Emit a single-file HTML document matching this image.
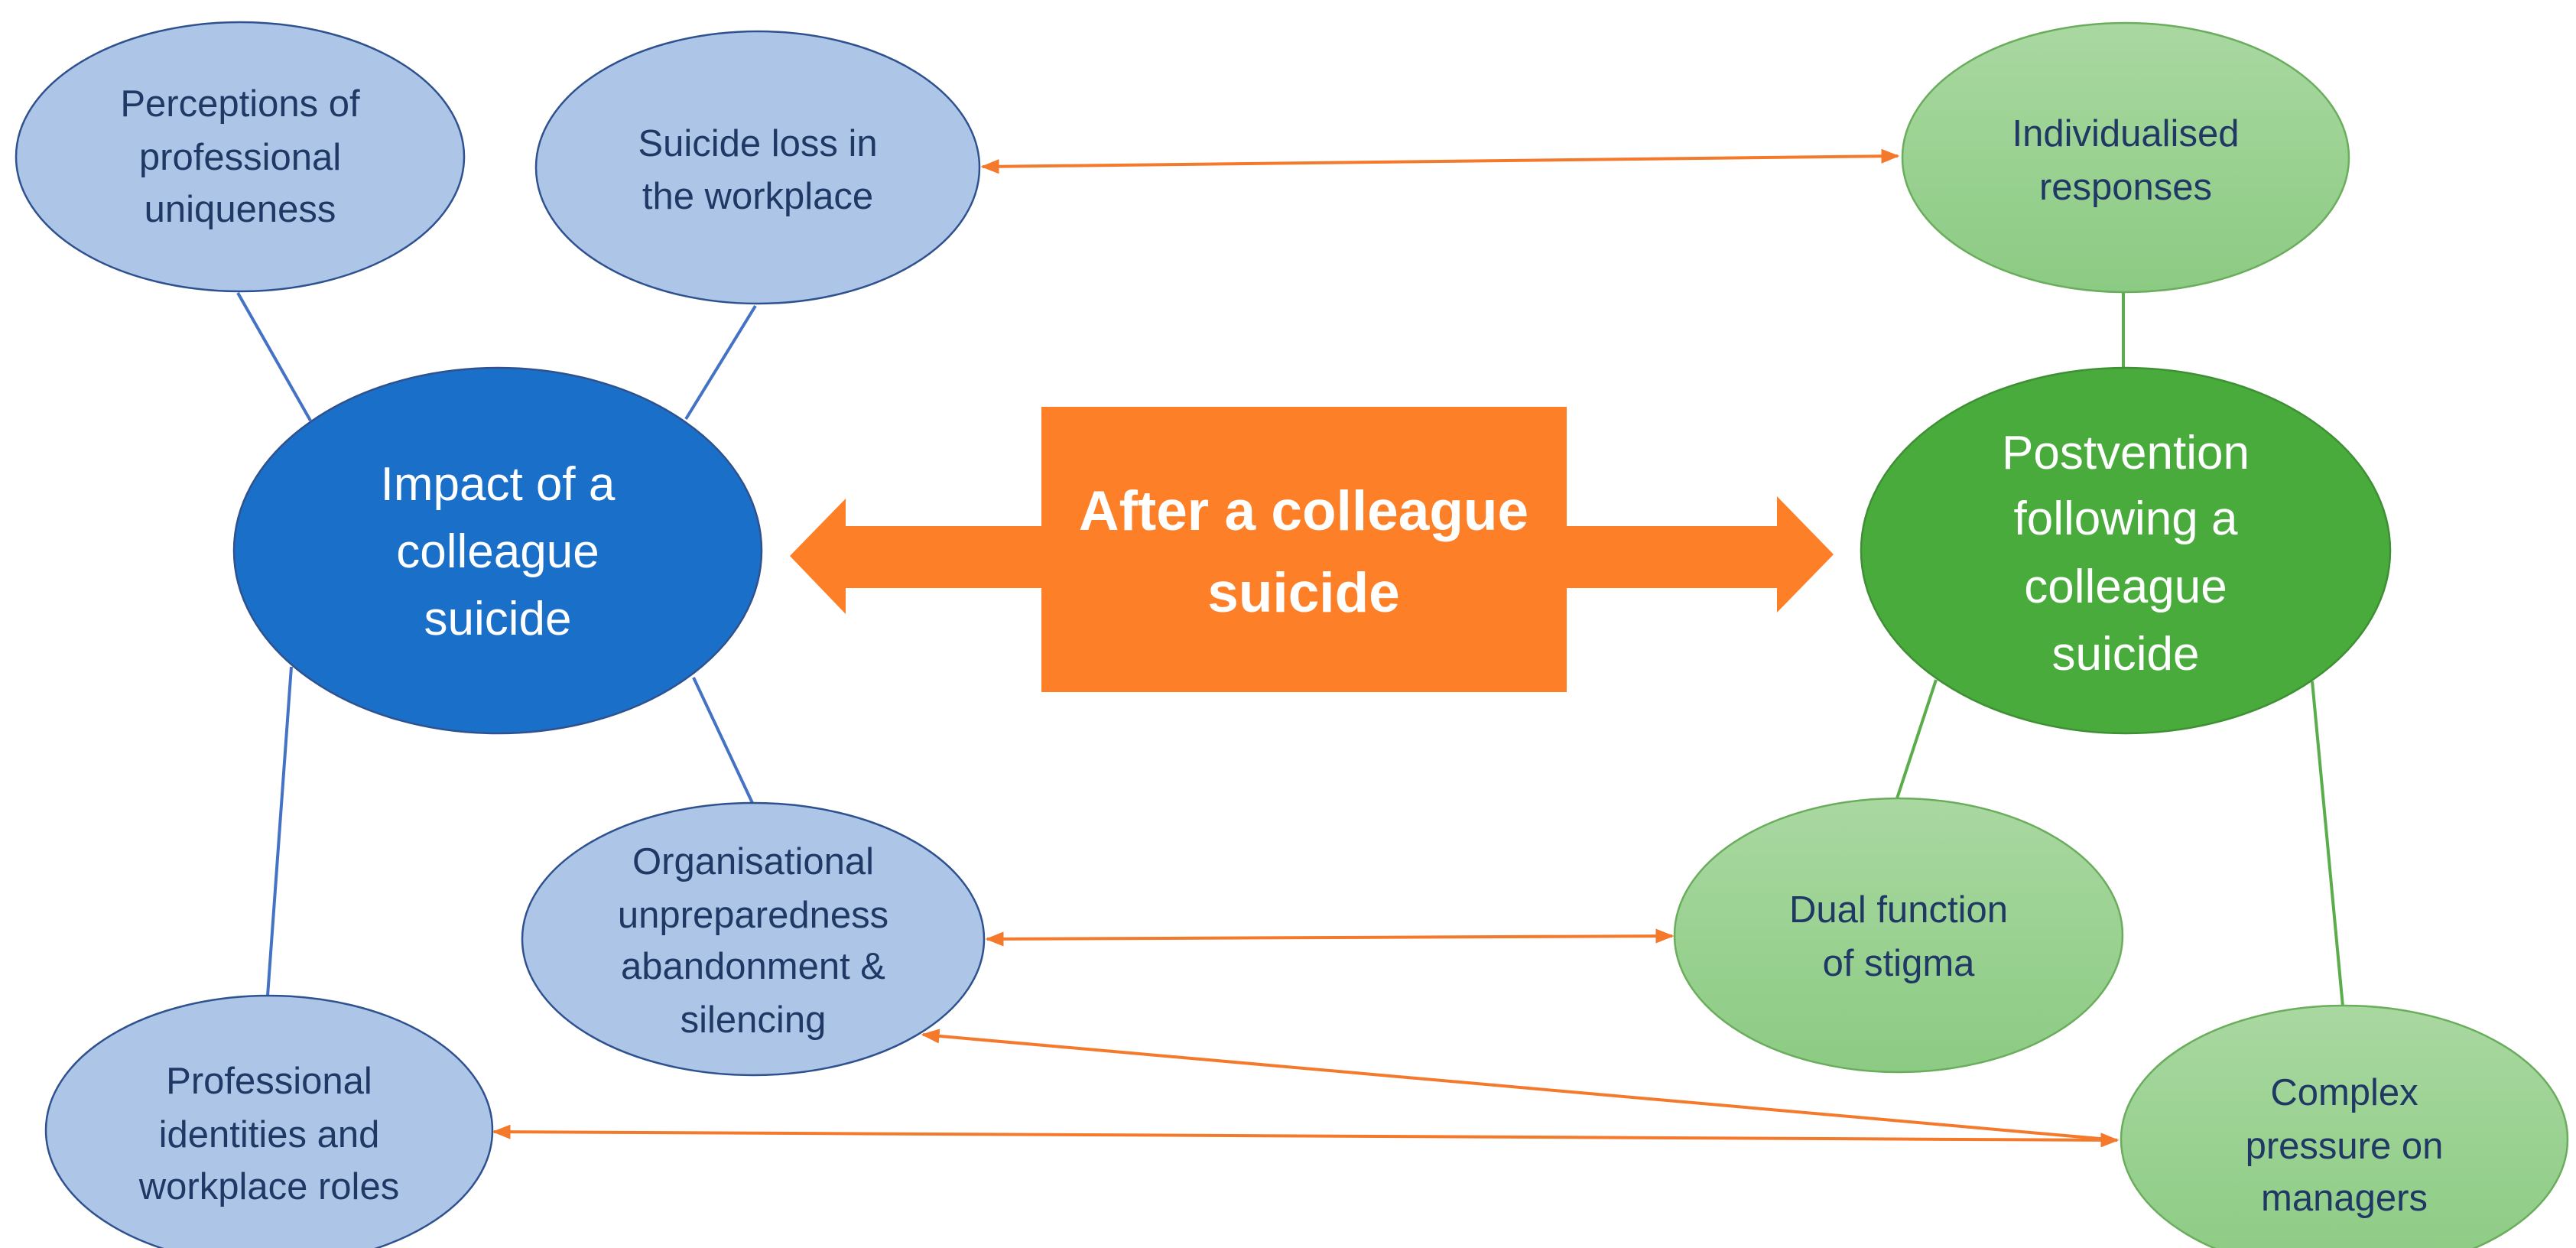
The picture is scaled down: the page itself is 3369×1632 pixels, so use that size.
<!DOCTYPE html>
<html><head><meta charset="utf-8"><style>html,body{margin:0;padding:0;background:#fff}svg{display:block}</style></head>
<body>
<svg width="3369" height="1632" viewBox="0 0 3369 1632" xmlns="http://www.w3.org/2000/svg" font-family="Liberation Sans, sans-serif">
<defs>
<linearGradient id="gg" x1="0" y1="0" x2="0" y2="1"><stop offset="0" stop-color="#a9d8a1"/><stop offset="1" stop-color="#8ccb83"/></linearGradient>
<marker id="ar" viewBox="0 0 10 10" refX="9" refY="5" markerWidth="6" markerHeight="6" orient="auto-start-reverse"><path d="M0,1 L10,5 L0,9 z" fill="#f5792a"/></marker>
</defs>
<g stroke="#4472c4" stroke-width="4">
<line x1="311" y1="383" x2="406" y2="550"/>
<line x1="988" y1="400" x2="897" y2="548"/>
<line x1="381" y1="872" x2="350" y2="1302"/>
<line x1="907" y1="886" x2="984" y2="1050"/>
</g>
<g stroke="#5aad4a" stroke-width="4">
<line x1="2777" y1="382" x2="2777" y2="481"/>
<line x1="2532" y1="889" x2="2481" y2="1044"/>
<line x1="3024" y1="891" x2="3064" y2="1316"/>
</g>
<g stroke="#f5792a" stroke-width="4" fill="none">
<line x1="1285" y1="218" x2="2482" y2="204" marker-start="url(#ar)" marker-end="url(#ar)"/>
<line x1="1291" y1="1228" x2="2187" y2="1224" marker-start="url(#ar)" marker-end="url(#ar)"/>
<line x1="646" y1="1480" x2="2769" y2="1491" marker-start="url(#ar)" marker-end="url(#ar)"/>
<line x1="1207" y1="1353" x2="2769" y2="1491" marker-start="url(#ar)"/>
</g>
<g fill="#adc6e8" stroke="#2f528f" stroke-width="2.5">
<ellipse cx="314" cy="205" rx="293" ry="176"/>
<ellipse cx="991" cy="219" rx="290" ry="178"/>
<ellipse cx="985" cy="1228" rx="302" ry="178"/>
<ellipse cx="352" cy="1478" rx="292" ry="176"/>
</g>
<ellipse cx="651" cy="720" rx="345" ry="239" fill="#1a6fc8" stroke="#2f528f" stroke-width="2.5"/>
<g fill="url(#gg)" stroke="#6aad5c" stroke-width="2.5">
<ellipse cx="2780" cy="206" rx="292" ry="176"/>
<ellipse cx="2483" cy="1223" rx="293" ry="179"/>
<ellipse cx="3066" cy="1490" rx="292" ry="175"/>
</g>
<ellipse cx="2780" cy="720" rx="346" ry="239" fill="#48ab3b" stroke="#3f8f35" stroke-width="2.5"/>
<rect x="1362" y="532" width="687" height="373" fill="#fd7f28"/>
<polygon points="1362,688 1106,688 1106,652 1033,727 1106,803 1106,769 1362,769" fill="#fd7f28"/>
<polygon points="2049,688 2324,688 2324,649 2398,725 2324,801 2324,769 2049,769" fill="#fd7f28"/>
<g text-anchor="middle" font-size="73" font-weight="bold" fill="#fff">
<text x="1705" y="693">After a colleague</text>
<text x="1705" y="800">suicide</text>
</g>
<g text-anchor="middle" font-size="49" fill="#1f3864">
<text x="314" y="152">Perceptions of</text><text x="314" y="222">professional</text><text x="314" y="290">uniqueness</text>
<text x="991" y="204">Suicide loss in</text><text x="991" y="273">the workplace</text>
<text x="985" y="1143">Organisational</text><text x="985" y="1213">unpreparedness</text><text x="985" y="1280">abandonment &amp;</text><text x="985" y="1350">silencing</text>
<text x="352" y="1430">Professional</text><text x="352" y="1500">identities and</text><text x="352" y="1568">workplace roles</text>
<text x="2780" y="191">Individualised</text><text x="2780" y="261">responses</text>
<text x="2483" y="1206">Dual function</text><text x="2483" y="1276">of stigma</text>
<text x="3066" y="1445">Complex</text><text x="3066" y="1515">pressure on</text><text x="3066" y="1583">managers</text>
</g>
<g text-anchor="middle" font-size="62" fill="#fff">
<text x="651" y="654">Impact of a</text><text x="651" y="742">colleague</text><text x="651" y="830">suicide</text>
<text x="2780" y="613">Postvention</text><text x="2780" y="699">following a</text><text x="2780" y="788">colleague</text><text x="2780" y="876">suicide</text>
</g>
</svg>
</body></html>
